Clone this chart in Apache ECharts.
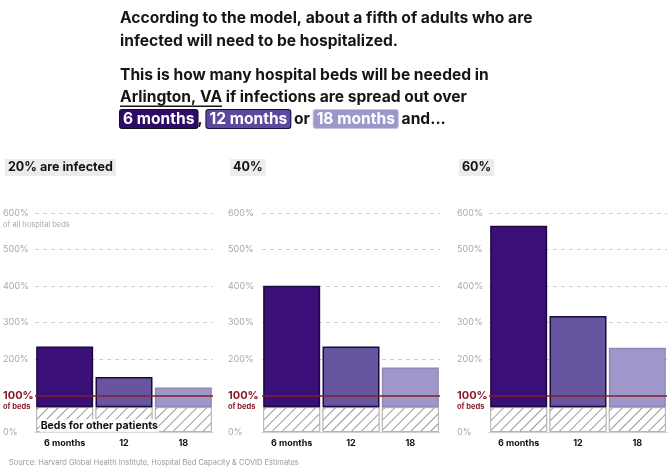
<!DOCTYPE html>
<html><head><meta charset="utf-8">
<script src="https://cdn.jsdelivr.net/npm/echarts@6/dist/echarts.min.js"></script>
<style>html,body{margin:0;padding:0;background:#fff}#c{width:670px;height:475px}</style>
</head><body><div id="c"></div>
<script>
const categories = ['6 months', '12', '18'];
const panelTitles = ['20% are infected', '40%', '60%'];
const bedsNeeded20 = [234, 151, 122];
const bedsNeeded40 = [401, 234, 177];
const bedsNeeded60 = [565, 318, 231];
const otherPatients = 68;
const capacityLine = 100;
const barColors = ['#3a0f78', '#68559f', '#9d98c9'];
const barBorders = ['#1c0a3c', '#1c0a3c', '#8f8ab5'];

const FONT = 'Inter, "Noto Sans", sans-serif';
const HFS = 15.6;
const panels = [bedsNeeded20, bedsNeeded40, bedsNeeded60];
const gridLefts = [35, 262, 489];
const labelX = [3, 228, 457];
const gridWidth = 178;

const grids = [], xAxes = [], yAxes = [], series = [], titles = [];

titles.push({
  left: 120, top: 7, padding: 0,
  text: 'According to the model, about a fifth of adults who are\ninfected will need to be hospitalized.',
  textStyle: {fontFamily: FONT, fontSize: HFS, fontWeight: 'bold', color: '#151515', lineHeight: 23}
});
titles.push({
  left: 120, top: 64, padding: 0,
  text: 'This is how many hospital beds will be needed in\nArlington, VA if infections are spread out over\n{a|6 months}, {b|12 months} or {c|18 months} and...',
  textStyle: {fontFamily: FONT, fontSize: HFS, fontWeight: 'bold', color: '#151515', lineHeight: 22,
    rich: {
      a: {fontFamily: FONT, fontSize: HFS, fontWeight: 'bold', color: '#fff', backgroundColor: '#2e0c68', borderColor: '#111', borderWidth: 1, padding: [1, 3], borderRadius: 2},
      b: {fontFamily: FONT, fontSize: HFS, fontWeight: 'bold', color: '#fff', backgroundColor: '#5b4a9e', borderColor: '#1c0a3c', borderWidth: 1, padding: [1, 3], borderRadius: 2},
      c: {fontFamily: FONT, fontSize: HFS, fontWeight: 'bold', color: '#fff', backgroundColor: '#9d98cb', borderColor: '#c8c5e0', borderWidth: 1, padding: [1, 3], borderRadius: 2}
    }}
});

panels.forEach((vals, i) => {
  grids.push({left: gridLefts[i], top: 213, width: gridWidth, height: 219, containLabel: false});
  titles.push({
    left: labelX[i] + 2, top: 159, text: panelTitles[i],
    backgroundColor: '#ececec', padding: [2, 3],
    textStyle: {fontFamily: FONT, fontSize: 12.5, fontWeight: 'bold', color: '#111'}
  });
  xAxes.push({
    type: 'category', gridIndex: i, data: categories,
    axisLine: {show: true, lineStyle: {color: '#d0d0d0'}},
    axisTick: {show: false},
    axisLabel: {fontFamily: FONT, fontSize: 9, fontWeight: 'bold', color: '#111', margin: 7}
  });
  yAxes.push({
    type: 'value', gridIndex: i, min: 0, max: 600, interval: 100,
    axisLine: {show: false}, axisTick: {show: false},
    splitLine: {show: true, lineStyle: {color: '#cfcfcf', type: [4, 4], width: 1}},
    axisLabel: {
      align: 'left', margin: gridLefts[i] - labelX[i],
      formatter: v => {
        if (v === capacityLine) return '{s| }\n{r|100%}\n{rs|of beds}';
        if (v === 600 && i === 0) return '{s| }\n{n|600%}\n{g|of all hospital beds}';
        return '{s| }\n{n|' + v + '%}\n{s| }';
      },
      rich: {
        s: {fontSize: 7, lineHeight: 11},
        n: {fontFamily: FONT, fontSize: 9, color: '#a8a8a8', lineHeight: 12},
        g: {fontFamily: FONT, fontSize: 7.5, color: '#a8a8a8', lineHeight: 11},
        r: {fontFamily: FONT, fontSize: 11, fontWeight: 'bold', color: '#8a1c2c', lineHeight: 12},
        rs: {fontFamily: FONT, fontSize: 7.5, fontWeight: 'bold', color: '#8a1c2c', lineHeight: 11}
      }
    }
  });
  series.push({
    type: 'bar', xAxisIndex: i, yAxisIndex: i, stack: 'p' + i, barWidth: 57,
    data: categories.map(() => otherPatients),
    itemStyle: {
      color: '#ffffff', borderColor: '#b5b5b5', borderWidth: 1,
      decal: {symbol: 'rect', color: '#9a9a9a', backgroundColor: '#fff', dashArrayX: [1, 0], dashArrayY: [1, 6], rotation: -Math.PI / 4, symbolSize: 1}
    },
    silent: true,
    markLine: {
      silent: true, symbol: 'none', z: 10,
      label: {show: false},
      lineStyle: {color: '#8a1c2c', width: 1.5, type: 'solid'},
      data: [{yAxis: capacityLine}]
    },
    z: 2
  });
  series.push({
    type: 'bar', xAxisIndex: i, yAxisIndex: i, stack: 'p' + i, barWidth: 57,
    data: vals.map((v, k) => ({
      value: v - otherPatients,
      itemStyle: {color: barColors[k], borderColor: barBorders[k], borderWidth: 1.5}
    })),
    silent: true, z: 2
  });
});

titles.push({
  left: 9, top: 459, padding: 0,
  text: 'Source: Harvard Global Health Institute, Hospital Bed Capacity & COVID Estimates',
  textStyle: {fontFamily: FONT, fontSize: 7.5, fontWeight: 'normal', color: '#9a9a9a'}
});

const chart = echarts.init(document.getElementById('c'), null, {renderer: 'canvas'});
chart.setOption({
  animation: false,
  title: titles,
  grid: grids, xAxis: xAxes, yAxis: yAxes, series: series
});

const cv = document.createElement('canvas').getContext('2d');
cv.font = 'bold ' + HFS + 'px ' + FONT;
const ulW = cv.measureText('Arlington, VA').width;

const p = chart.convertToPixel({xAxisIndex: 0, yAxisIndex: 0}, [0, otherPatients / 2 - 18]);
chart.setOption({
  graphic: [
    {type: 'text', left: p[0] - 25, top: p[1] - 7, z: 20,
      style: {text: 'Beds for other patients', fontFamily: FONT, fontSize: 10.5, fontWeight: 'bold', fill: '#111', backgroundColor: 'rgba(255,255,255,0.85)', padding: [1, 1]}},
    {type: 'rect', shape: {x: 120, y: 105.5, width: ulW, height: 1.5}, style: {fill: '#151515'}, z: 20}
  ]
});
</script></body></html>
